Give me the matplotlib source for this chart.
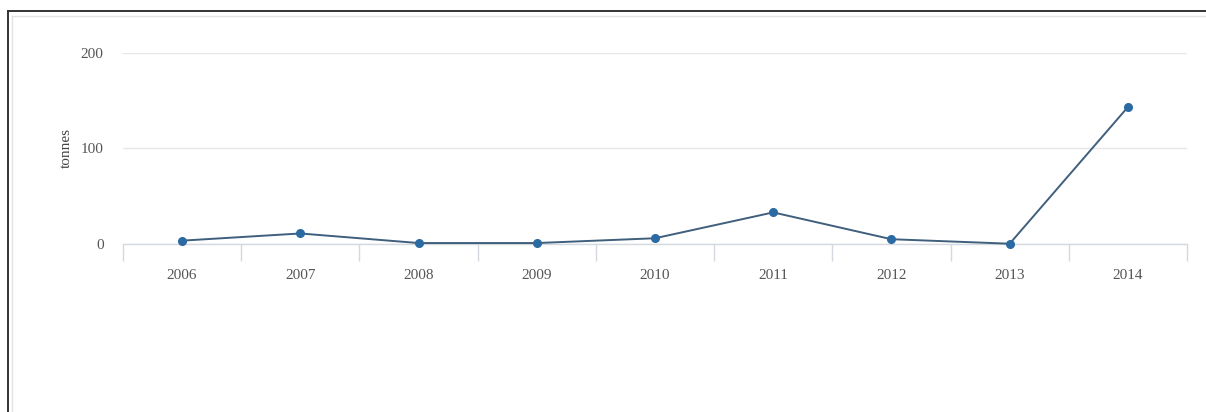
import matplotlib.pyplot as plt
from matplotlib.lines import Line2D

years = ['2006', '2007', '2008', '2009', '2010', '2011', '2012', '2013', '2014']
tonnes = [3.5, 11, 1, 1, 6, 33, 5, 0.3, 143]
y_ticks = [0, 100, 200]

W, H = 1206, 412
fig = plt.figure(figsize=(W / 100, H / 100), dpi=100)
plt.rcParams['font.family'] = ['Liberation Serif', 'DejaVu Serif']

# plot area in pixels: left 123, right 1187, y=0 at 244, y=200 at 52.5
ax = fig.add_axes([123 / W, (H - 244) / H, (1187 - 123) / W, (244 - 52.5) / H])
x = list(range(len(years)))
ax.plot(x, tonnes, color='#3f5f7c', lw=1.4, zorder=3, clip_on=False)
ax.plot(x, tonnes, ls='none', marker='o', ms=5.5, color='#2b6aa2',
        mec='#2b6aa2', zorder=4, clip_on=False)

ax.set_xlim(-0.5, len(years) - 0.5)
ax.set_ylim(0, 200)
ax.set_yticks(y_ticks)
ax.set_yticklabels([str(v) for v in y_ticks])
ax.set_xticks(x)
ax.set_xticklabels(years)
ax.set_xticks([i - 0.5 for i in range(len(years) + 1)], minor=True)

ax.grid(axis='y', color='#e6e6e6', lw=1)
for s in ['top', 'right', 'left']:
    ax.spines[s].set_visible(False)
ax.spines['bottom'].set_color('#d4d8e0')
ax.spines['bottom'].set_linewidth(1)
ax.tick_params(axis='x', which='major', length=0, pad=18, labelsize=11, labelcolor='#555555')
ax.tick_params(axis='x', which='minor', length=12, color='#d4d8e0', width=1)
ax.tick_params(axis='y', length=0, pad=14, labelsize=11, labelcolor='#555555')
ax.set_ylabel('tonnes', fontsize=11, color='#444444', labelpad=6)

# outer frame of the screenshot
fig.add_artist(Line2D([8 / W, 1], [1 - 11 / H, 1 - 11 / H], color='#333333', lw=1.4))
fig.add_artist(Line2D([8 / W, 8 / W], [0, 1 - 11 / H], color='#333333', lw=1.4))
fig.add_artist(Line2D([12 / W, 1], [1 - 16 / H, 1 - 16 / H], color='#e2e2e2', lw=1))
fig.add_artist(Line2D([12 / W, 12 / W], [0, 1 - 16 / H], color='#e2e2e2', lw=1))

fig.savefig('out.png', dpi=100)
